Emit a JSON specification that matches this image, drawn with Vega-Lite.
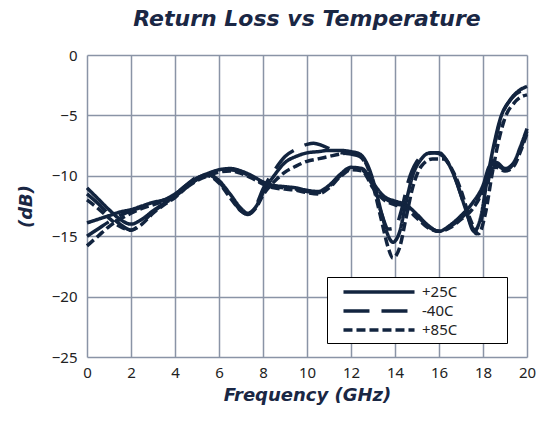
{
  "$schema": "https://vega.github.io/schema/vega-lite/v6.json",
  "autosize": {"type": "none"},
  "padding": {"left": 87, "top": 55, "right": 16, "bottom": 79},
  "width": 440,
  "height": 302,
  "background": "white",
  "title": {"text": "Return Loss vs Temperature", "font": "DejaVu Sans", "fontSize": 22, "fontWeight": "bold", "fontStyle": "italic", "color": "#1a2744", "offset": 17, "anchor": "middle"},
  "data": {"values": [
    {"f":0,"v":-11.0,"t":"+25C","s":"A"},{"f":0.5,"v":-11.9,"t":"+25C","s":"A"},{"f":1,"v":-12.8,"t":"+25C","s":"A"},{"f":1.5,"v":-13.6,"t":"+25C","s":"A"},{"f":2,"v":-14.0,"t":"+25C","s":"A"},{"f":2.5,"v":-13.6,"t":"+25C","s":"A"},{"f":3,"v":-12.9,"t":"+25C","s":"A"},{"f":3.5,"v":-12.3,"t":"+25C","s":"A"},{"f":4,"v":-11.7,"t":"+25C","s":"A"},{"f":4.5,"v":-10.9,"t":"+25C","s":"A"},{"f":5,"v":-10.2,"t":"+25C","s":"A"},{"f":5.5,"v":-9.9,"t":"+25C","s":"A"},{"f":6,"v":-10.4,"t":"+25C","s":"A"},{"f":6.5,"v":-11.5,"t":"+25C","s":"A"},{"f":7,"v":-12.7,"t":"+25C","s":"A"},{"f":7.3,"v":-13.1,"t":"+25C","s":"A"},{"f":7.7,"v":-12.5,"t":"+25C","s":"A"},{"f":8,"v":-11.4,"t":"+25C","s":"A"},{"f":8.5,"v":-10.0,"t":"+25C","s":"A"},{"f":9,"v":-8.9,"t":"+25C","s":"A"},{"f":9.5,"v":-8.4,"t":"+25C","s":"A"},{"f":10,"v":-8.1,"t":"+25C","s":"A"},{"f":10.5,"v":-8.0,"t":"+25C","s":"A"},{"f":11,"v":-7.9,"t":"+25C","s":"A"},{"f":11.5,"v":-7.9,"t":"+25C","s":"A"},{"f":12,"v":-8.0,"t":"+25C","s":"A"},{"f":12.4,"v":-8.2,"t":"+25C","s":"A"},{"f":12.8,"v":-9.3,"t":"+25C","s":"A"},{"f":13.1,"v":-11.0,"t":"+25C","s":"A"},{"f":13.4,"v":-13.2,"t":"+25C","s":"A"},{"f":13.7,"v":-15.0,"t":"+25C","s":"A"},{"f":13.9,"v":-15.5,"t":"+25C","s":"A"},{"f":14.2,"v":-14.7,"t":"+25C","s":"A"},{"f":14.5,"v":-12.2,"t":"+25C","s":"A"},{"f":14.8,"v":-10.0,"t":"+25C","s":"A"},{"f":15.2,"v":-8.6,"t":"+25C","s":"A"},{"f":15.6,"v":-8.1,"t":"+25C","s":"A"},{"f":16,"v":-8.1,"t":"+25C","s":"A"},{"f":16.4,"v":-8.9,"t":"+25C","s":"A"},{"f":16.8,"v":-10.5,"t":"+25C","s":"A"},{"f":17.2,"v":-12.7,"t":"+25C","s":"A"},{"f":17.6,"v":-14.6,"t":"+25C","s":"A"},{"f":17.9,"v":-13.4,"t":"+25C","s":"A"},{"f":18.2,"v":-10.2,"t":"+25C","s":"A"},{"f":18.5,"v":-7.4,"t":"+25C","s":"A"},{"f":18.8,"v":-5.2,"t":"+25C","s":"A"},{"f":19.2,"v":-3.8,"t":"+25C","s":"A"},{"f":19.6,"v":-3.0,"t":"+25C","s":"A"},{"f":20,"v":-2.6,"t":"+25C","s":"A"},

    {"f":0,"v":-11.5,"t":"-40C","s":"A"},{"f":0.5,"v":-12.3,"t":"-40C","s":"A"},{"f":1,"v":-13.2,"t":"-40C","s":"A"},{"f":1.5,"v":-14.0,"t":"-40C","s":"A"},{"f":2,"v":-14.5,"t":"-40C","s":"A"},{"f":2.5,"v":-13.9,"t":"-40C","s":"A"},{"f":3,"v":-13.0,"t":"-40C","s":"A"},{"f":3.5,"v":-12.3,"t":"-40C","s":"A"},{"f":4,"v":-11.6,"t":"-40C","s":"A"},{"f":4.5,"v":-10.8,"t":"-40C","s":"A"},{"f":5,"v":-10.1,"t":"-40C","s":"A"},{"f":5.5,"v":-9.9,"t":"-40C","s":"A"},{"f":6,"v":-10.5,"t":"-40C","s":"A"},{"f":6.5,"v":-11.7,"t":"-40C","s":"A"},{"f":7,"v":-12.9,"t":"-40C","s":"A"},{"f":7.3,"v":-13.2,"t":"-40C","s":"A"},{"f":7.7,"v":-12.4,"t":"-40C","s":"A"},{"f":8,"v":-11.1,"t":"-40C","s":"A"},{"f":8.5,"v":-9.6,"t":"-40C","s":"A"},{"f":9,"v":-8.4,"t":"-40C","s":"A"},{"f":9.5,"v":-7.8,"t":"-40C","s":"A"},{"f":10,"v":-7.4,"t":"-40C","s":"A"},{"f":10.3,"v":-7.3,"t":"-40C","s":"A"},{"f":10.7,"v":-7.5,"t":"-40C","s":"A"},{"f":11.2,"v":-7.9,"t":"-40C","s":"A"},{"f":11.6,"v":-8.1,"t":"-40C","s":"A"},{"f":12,"v":-8.2,"t":"-40C","s":"A"},{"f":12.4,"v":-8.4,"t":"-40C","s":"A"},{"f":12.8,"v":-9.5,"t":"-40C","s":"A"},{"f":13.1,"v":-11.3,"t":"-40C","s":"A"},{"f":13.4,"v":-13.2,"t":"-40C","s":"A"},{"f":13.7,"v":-14.4,"t":"-40C","s":"A"},{"f":14.0,"v":-14.3,"t":"-40C","s":"A"},{"f":14.3,"v":-12.8,"t":"-40C","s":"A"},{"f":14.6,"v":-10.5,"t":"-40C","s":"A"},{"f":15,"v":-8.8,"t":"-40C","s":"A"},{"f":15.4,"v":-8.2,"t":"-40C","s":"A"},{"f":15.8,"v":-8.1,"t":"-40C","s":"A"},{"f":16.2,"v":-8.4,"t":"-40C","s":"A"},{"f":16.6,"v":-9.6,"t":"-40C","s":"A"},{"f":17,"v":-11.6,"t":"-40C","s":"A"},{"f":17.4,"v":-13.8,"t":"-40C","s":"A"},{"f":17.7,"v":-14.8,"t":"-40C","s":"A"},{"f":18,"v":-13.0,"t":"-40C","s":"A"},{"f":18.3,"v":-9.8,"t":"-40C","s":"A"},{"f":18.6,"v":-6.8,"t":"-40C","s":"A"},{"f":18.9,"v":-4.8,"t":"-40C","s":"A"},{"f":19.3,"v":-3.6,"t":"-40C","s":"A"},{"f":19.7,"v":-3.0,"t":"-40C","s":"A"},{"f":20,"v":-2.9,"t":"-40C","s":"A"},

    {"f":0,"v":-12.0,"t":"+85C","s":"A"},{"f":0.5,"v":-12.7,"t":"+85C","s":"A"},{"f":1,"v":-13.5,"t":"+85C","s":"A"},{"f":1.5,"v":-14.2,"t":"+85C","s":"A"},{"f":2,"v":-14.5,"t":"+85C","s":"A"},{"f":2.5,"v":-14.0,"t":"+85C","s":"A"},{"f":3,"v":-13.1,"t":"+85C","s":"A"},{"f":3.5,"v":-12.4,"t":"+85C","s":"A"},{"f":4,"v":-11.8,"t":"+85C","s":"A"},{"f":4.5,"v":-11.0,"t":"+85C","s":"A"},{"f":5,"v":-10.3,"t":"+85C","s":"A"},{"f":5.5,"v":-10.0,"t":"+85C","s":"A"},{"f":6,"v":-10.6,"t":"+85C","s":"A"},{"f":6.5,"v":-11.8,"t":"+85C","s":"A"},{"f":7,"v":-12.9,"t":"+85C","s":"A"},{"f":7.3,"v":-13.2,"t":"+85C","s":"A"},{"f":7.7,"v":-12.6,"t":"+85C","s":"A"},{"f":8,"v":-11.6,"t":"+85C","s":"A"},{"f":8.5,"v":-10.5,"t":"+85C","s":"A"},{"f":9,"v":-9.7,"t":"+85C","s":"A"},{"f":9.5,"v":-9.2,"t":"+85C","s":"A"},{"f":10,"v":-8.8,"t":"+85C","s":"A"},{"f":10.5,"v":-8.6,"t":"+85C","s":"A"},{"f":11,"v":-8.4,"t":"+85C","s":"A"},{"f":11.5,"v":-8.2,"t":"+85C","s":"A"},{"f":12,"v":-8.1,"t":"+85C","s":"A"},{"f":12.4,"v":-8.3,"t":"+85C","s":"A"},{"f":12.8,"v":-9.5,"t":"+85C","s":"A"},{"f":13.1,"v":-11.5,"t":"+85C","s":"A"},{"f":13.4,"v":-13.8,"t":"+85C","s":"A"},{"f":13.7,"v":-16.0,"t":"+85C","s":"A"},{"f":13.9,"v":-16.8,"t":"+85C","s":"A"},{"f":14.2,"v":-16.0,"t":"+85C","s":"A"},{"f":14.5,"v":-13.5,"t":"+85C","s":"A"},{"f":14.8,"v":-11.0,"t":"+85C","s":"A"},{"f":15.2,"v":-9.2,"t":"+85C","s":"A"},{"f":15.7,"v":-8.6,"t":"+85C","s":"A"},{"f":16.2,"v":-8.6,"t":"+85C","s":"A"},{"f":16.6,"v":-9.5,"t":"+85C","s":"A"},{"f":17,"v":-11.2,"t":"+85C","s":"A"},{"f":17.4,"v":-13.5,"t":"+85C","s":"A"},{"f":17.8,"v":-14.8,"t":"+85C","s":"A"},{"f":18.1,"v":-13.2,"t":"+85C","s":"A"},{"f":18.4,"v":-10.0,"t":"+85C","s":"A"},{"f":18.7,"v":-7.2,"t":"+85C","s":"A"},{"f":19,"v":-5.2,"t":"+85C","s":"A"},{"f":19.4,"v":-4.0,"t":"+85C","s":"A"},{"f":19.7,"v":-3.5,"t":"+85C","s":"A"},{"f":20,"v":-3.3,"t":"+85C","s":"A"},

    {"f":0,"v":-13.9,"t":"+25C","s":"B"},{"f":0.5,"v":-13.6,"t":"+25C","s":"B"},{"f":1,"v":-13.3,"t":"+25C","s":"B"},{"f":1.5,"v":-13.0,"t":"+25C","s":"B"},{"f":2,"v":-12.8,"t":"+25C","s":"B"},{"f":2.5,"v":-12.5,"t":"+25C","s":"B"},{"f":3,"v":-12.2,"t":"+25C","s":"B"},{"f":3.5,"v":-12.0,"t":"+25C","s":"B"},{"f":4,"v":-11.5,"t":"+25C","s":"B"},{"f":4.5,"v":-10.8,"t":"+25C","s":"B"},{"f":5,"v":-10.2,"t":"+25C","s":"B"},{"f":5.5,"v":-9.8,"t":"+25C","s":"B"},{"f":6,"v":-9.5,"t":"+25C","s":"B"},{"f":6.5,"v":-9.4,"t":"+25C","s":"B"},{"f":7,"v":-9.6,"t":"+25C","s":"B"},{"f":7.5,"v":-10.0,"t":"+25C","s":"B"},{"f":8,"v":-10.5,"t":"+25C","s":"B"},{"f":8.5,"v":-10.8,"t":"+25C","s":"B"},{"f":9,"v":-10.9,"t":"+25C","s":"B"},{"f":9.5,"v":-11.0,"t":"+25C","s":"B"},{"f":10,"v":-11.2,"t":"+25C","s":"B"},{"f":10.5,"v":-11.3,"t":"+25C","s":"B"},{"f":11,"v":-10.8,"t":"+25C","s":"B"},{"f":11.5,"v":-9.9,"t":"+25C","s":"B"},{"f":12,"v":-9.3,"t":"+25C","s":"B"},{"f":12.5,"v":-9.4,"t":"+25C","s":"B"},{"f":13,"v":-10.6,"t":"+25C","s":"B"},{"f":13.5,"v":-11.7,"t":"+25C","s":"B"},{"f":14,"v":-12.1,"t":"+25C","s":"B"},{"f":14.5,"v":-12.4,"t":"+25C","s":"B"},{"f":15,"v":-13.2,"t":"+25C","s":"B"},{"f":15.5,"v":-14.1,"t":"+25C","s":"B"},{"f":16,"v":-14.6,"t":"+25C","s":"B"},{"f":16.5,"v":-14.1,"t":"+25C","s":"B"},{"f":17,"v":-13.3,"t":"+25C","s":"B"},{"f":17.5,"v":-12.3,"t":"+25C","s":"B"},{"f":18,"v":-10.8,"t":"+25C","s":"B"},{"f":18.3,"v":-9.2,"t":"+25C","s":"B"},{"f":18.6,"v":-8.9,"t":"+25C","s":"B"},{"f":19,"v":-9.4,"t":"+25C","s":"B"},{"f":19.4,"v":-8.9,"t":"+25C","s":"B"},{"f":19.7,"v":-7.6,"t":"+25C","s":"B"},{"f":20,"v":-6.1,"t":"+25C","s":"B"},

    {"f":0,"v":-15.0,"t":"-40C","s":"B"},{"f":0.5,"v":-14.4,"t":"-40C","s":"B"},{"f":1,"v":-13.8,"t":"-40C","s":"B"},{"f":1.5,"v":-13.3,"t":"-40C","s":"B"},{"f":2,"v":-12.9,"t":"-40C","s":"B"},{"f":2.5,"v":-12.6,"t":"-40C","s":"B"},{"f":3,"v":-12.3,"t":"-40C","s":"B"},{"f":3.5,"v":-12.0,"t":"-40C","s":"B"},{"f":4,"v":-11.6,"t":"-40C","s":"B"},{"f":4.5,"v":-10.9,"t":"-40C","s":"B"},{"f":5,"v":-10.3,"t":"-40C","s":"B"},{"f":5.5,"v":-9.9,"t":"-40C","s":"B"},{"f":6,"v":-9.6,"t":"-40C","s":"B"},{"f":6.5,"v":-9.5,"t":"-40C","s":"B"},{"f":7,"v":-9.7,"t":"-40C","s":"B"},{"f":7.5,"v":-10.1,"t":"-40C","s":"B"},{"f":8,"v":-10.6,"t":"-40C","s":"B"},{"f":8.5,"v":-10.9,"t":"-40C","s":"B"},{"f":9,"v":-11.0,"t":"-40C","s":"B"},{"f":9.5,"v":-11.1,"t":"-40C","s":"B"},{"f":10,"v":-11.3,"t":"-40C","s":"B"},{"f":10.5,"v":-11.4,"t":"-40C","s":"B"},{"f":11,"v":-10.9,"t":"-40C","s":"B"},{"f":11.5,"v":-10.0,"t":"-40C","s":"B"},{"f":12,"v":-9.4,"t":"-40C","s":"B"},{"f":12.5,"v":-9.5,"t":"-40C","s":"B"},{"f":13,"v":-10.8,"t":"-40C","s":"B"},{"f":13.5,"v":-11.8,"t":"-40C","s":"B"},{"f":14,"v":-12.3,"t":"-40C","s":"B"},{"f":14.5,"v":-12.5,"t":"-40C","s":"B"},{"f":15,"v":-13.3,"t":"-40C","s":"B"},{"f":15.5,"v":-14.2,"t":"-40C","s":"B"},{"f":16,"v":-14.6,"t":"-40C","s":"B"},{"f":16.5,"v":-14.2,"t":"-40C","s":"B"},{"f":17,"v":-13.5,"t":"-40C","s":"B"},{"f":17.5,"v":-12.6,"t":"-40C","s":"B"},{"f":18,"v":-11.0,"t":"-40C","s":"B"},{"f":18.3,"v":-9.4,"t":"-40C","s":"B"},{"f":18.6,"v":-9.1,"t":"-40C","s":"B"},{"f":19,"v":-9.5,"t":"-40C","s":"B"},{"f":19.4,"v":-9.0,"t":"-40C","s":"B"},{"f":19.7,"v":-7.8,"t":"-40C","s":"B"},{"f":20,"v":-6.3,"t":"-40C","s":"B"},

    {"f":0,"v":-15.8,"t":"+85C","s":"B"},{"f":0.5,"v":-15.0,"t":"+85C","s":"B"},{"f":1,"v":-14.2,"t":"+85C","s":"B"},{"f":1.5,"v":-13.6,"t":"+85C","s":"B"},{"f":2,"v":-13.1,"t":"+85C","s":"B"},{"f":2.5,"v":-12.7,"t":"+85C","s":"B"},{"f":3,"v":-12.4,"t":"+85C","s":"B"},{"f":3.5,"v":-12.1,"t":"+85C","s":"B"},{"f":4,"v":-11.7,"t":"+85C","s":"B"},{"f":4.5,"v":-11.0,"t":"+85C","s":"B"},{"f":5,"v":-10.4,"t":"+85C","s":"B"},{"f":5.5,"v":-10.0,"t":"+85C","s":"B"},{"f":6,"v":-9.7,"t":"+85C","s":"B"},{"f":6.5,"v":-9.6,"t":"+85C","s":"B"},{"f":7,"v":-9.8,"t":"+85C","s":"B"},{"f":7.5,"v":-10.2,"t":"+85C","s":"B"},{"f":8,"v":-10.7,"t":"+85C","s":"B"},{"f":8.5,"v":-11.0,"t":"+85C","s":"B"},{"f":9,"v":-11.1,"t":"+85C","s":"B"},{"f":9.5,"v":-11.2,"t":"+85C","s":"B"},{"f":10,"v":-11.4,"t":"+85C","s":"B"},{"f":10.5,"v":-11.5,"t":"+85C","s":"B"},{"f":11,"v":-11.0,"t":"+85C","s":"B"},{"f":11.5,"v":-10.1,"t":"+85C","s":"B"},{"f":12,"v":-9.5,"t":"+85C","s":"B"},{"f":12.5,"v":-9.6,"t":"+85C","s":"B"},{"f":13,"v":-11.0,"t":"+85C","s":"B"},{"f":13.5,"v":-12.0,"t":"+85C","s":"B"},{"f":14,"v":-12.4,"t":"+85C","s":"B"},{"f":14.5,"v":-12.7,"t":"+85C","s":"B"},{"f":15,"v":-13.5,"t":"+85C","s":"B"},{"f":15.5,"v":-14.3,"t":"+85C","s":"B"},{"f":16,"v":-14.6,"t":"+85C","s":"B"},{"f":16.5,"v":-14.3,"t":"+85C","s":"B"},{"f":17,"v":-13.6,"t":"+85C","s":"B"},{"f":17.5,"v":-12.8,"t":"+85C","s":"B"},{"f":18,"v":-11.2,"t":"+85C","s":"B"},{"f":18.3,"v":-9.6,"t":"+85C","s":"B"},{"f":18.6,"v":-9.3,"t":"+85C","s":"B"},{"f":19,"v":-9.6,"t":"+85C","s":"B"},{"f":19.4,"v":-9.2,"t":"+85C","s":"B"},{"f":19.7,"v":-8.0,"t":"+85C","s":"B"},{"f":20,"v":-6.5,"t":"+85C","s":"B"}
  ]},
  "config": {
    "view": {"stroke": null},
    "axis": {"grid": true, "gridColor": "#8a94a6", "gridWidth": 1.5, "domain": false, "ticks": false, "labelFont": "Noto Sans", "labelFontSize": 15, "labelColor": "#222222", "titleFont": "DejaVu Sans", "titleFontSize": 18, "titleFontWeight": "bold", "titleFontStyle": "italic", "titleColor": "#1a2744"}
  },
  "mark": {"type": "line", "interpolate": "monotone", "color": "#12243f", "strokeWidth": 3.5},
  "encoding": {
    "x": {"field": "f", "type": "quantitative", "title": "Frequency (GHz)", "scale": {"domain": [0, 20], "nice": false}, "axis": {"values": [0,2,4,6,8,10,12,14,16,18,20], "labelPadding": 8, "titlePadding": 6, "labelFlush": false}},
    "y": {"field": "v", "type": "quantitative", "title": "(dB)", "scale": {"domain": [-25, 0], "nice": false}, "axis": {"values": [-25,-20,-15,-10,-5,0], "labelPadding": 10, "titlePadding": 16}},
    "detail": {"field": "s"},
    "strokeDash": {
      "field": "t", "type": "nominal",
      "scale": {"domain": ["+25C", "-40C", "+85C"], "range": [[1, 0], [26, 12], [9, 4]]},
      "legend": {"title": null, "orient": "none", "legendX": 240, "legendY": 222, "symbolType": "M-4.44,0H4.44", "symbolSize": 256, "symbolStrokeWidth": 3.5, "symbolStrokeColor": "#12243f", "symbolOffset": 37, "labelFont": "Noto Sans", "labelFontSize": 15, "labelColor": "#222222", "labelOffset": 33, "rowPadding": 1, "padding": 5, "strokeColor": "#000000", "fillColor": "#ffffff", "labelExpr": "datum.label + '\u2800\u2800\u2800\u2800'"}
    }
  }
}
